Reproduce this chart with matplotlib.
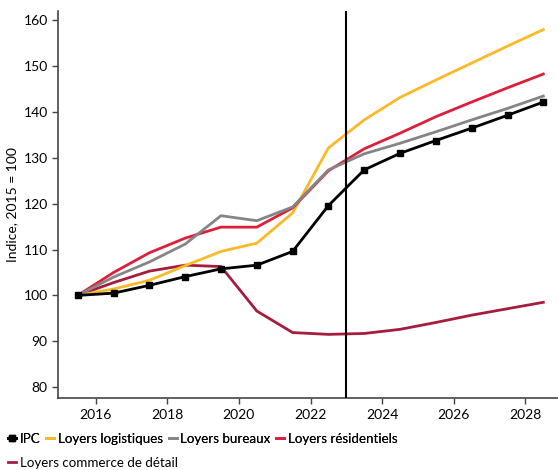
import matplotlib
matplotlib.use("Agg")
import matplotlib.pyplot as plt
from matplotlib.lines import Line2D

plt.rcParams['font.family'] = ['Lato', 'DejaVu Sans']

years = [2015.5, 2016.5, 2017.5, 2018.5, 2019.5, 2020.5, 2021.5,
         2022.5, 2023.5, 2024.5, 2025.5, 2026.5, 2027.5, 2028.5]

ipc = [100.0, 100.5, 102.2, 104.1, 105.8, 106.6, 109.6,
       119.6, 127.4, 131.0, 133.8, 136.5, 139.3, 142.2]
logistiques = [100.0, 101.4, 103.3, 106.5, 109.6, 111.4, 118.0,
               132.2, 138.3, 143.2, 147.0, 150.7, 154.4, 158.0]
bureaux = [100.0, 104.0, 107.3, 111.2, 117.4, 116.3, 119.3,
           127.4, 130.9, 133.2, 135.7, 138.3, 140.8, 143.5]
residentiels = [100.0, 105.0, 109.3, 112.5, 114.9, 114.9, 119.1,
                127.2, 132.0, 135.4, 139.0, 142.2, 145.3, 148.3]
commerce = [100.0, 102.8, 105.3, 106.6, 106.3, 96.6, 91.9,
            91.5, 91.7, 92.6, 94.1, 95.7, 97.1, 98.5]

labels = ["IPC", "Loyers logistiques", "Loyers bureaux",
          "Loyers résidentiels", "Loyers commerce de détail"]
colors = ["#000000", "#FBB928", "#858585", "#DD1F3A", "#A51C3F"]
xticks = [2016, 2018, 2020, 2022, 2024, 2026, 2028]
yticks = [80, 90, 100, 110, 120, 130, 140, 150, 160]
vline_year = 2023

fig = plt.figure(figsize=(5.58, 4.70), dpi=100)
ax = fig.add_axes([0.104, 0.153, 0.896, 0.824])

lw = 2.0
ax.plot(years, commerce, color=colors[4], lw=lw, zorder=2)
ax.plot(years, logistiques, color=colors[1], lw=lw, zorder=3)
ax.plot(years, residentiels, color=colors[3], lw=lw, zorder=3)
ax.plot(years, bureaux, color=colors[2], lw=lw, zorder=4)
ax.plot(years, ipc, color=colors[0], lw=lw, marker='s', markersize=5, zorder=5)
ax.axvline(vline_year, color='black', lw=1.5, zorder=6)

ax.set_xlim(2014.95, 2028.91)
ax.set_ylim(77.6, 162.1)
ax.set_xticks(xticks)
ax.set_yticks(yticks)
ax.tick_params(axis='both', labelsize=10, color='#444444', length=4, width=1)
for s in ['top', 'right']:
    ax.spines[s].set_visible(False)
for s in ['left', 'bottom']:
    ax.spines[s].set_color('#444444')
    ax.spines[s].set_linewidth(1.2)
ax.set_ylabel("Indice, 2015 = 100", fontsize=10)

handles = [
    Line2D([], [], color=colors[0], lw=lw, marker='s', markersize=5),
    Line2D([], [], color=colors[1], lw=lw),
    Line2D([], [], color=colors[2], lw=lw),
    Line2D([], [], color=colors[3], lw=lw),
]
leg1 = fig.legend(handles, labels[:4], loc='center left', bbox_to_anchor=(0.015, 0.066),
                  ncol=4, frameon=False, fontsize=9.6, handlelength=0.6,
                  handletextpad=0.25, columnspacing=0.45, borderaxespad=0, borderpad=0)
fig.add_artist(leg1)
leg2 = fig.legend([Line2D([], [], color=colors[4], lw=lw)], labels[4:],
                  loc='center left', bbox_to_anchor=(0.015, 0.015),
                  frameon=False, fontsize=9.6, handlelength=0.6,
                  handletextpad=0.25, borderaxespad=0, borderpad=0)

fig.savefig("out.png", dpi=100)
